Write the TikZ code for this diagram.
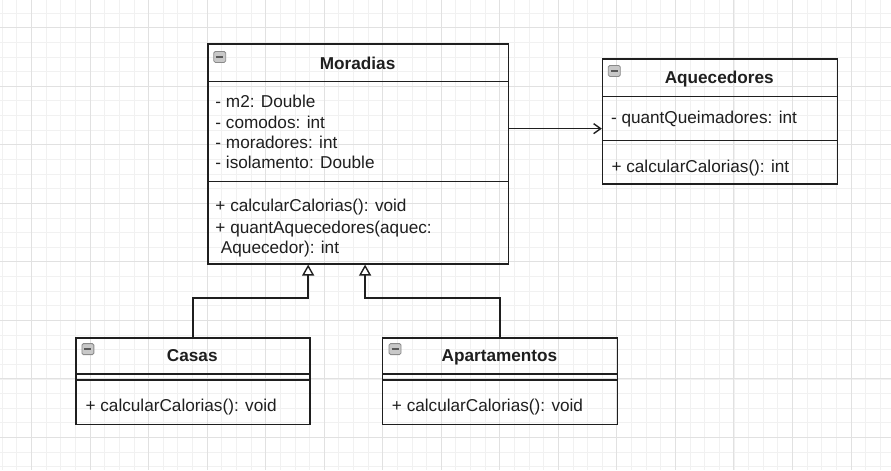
\documentclass[tikz,border=0pt]{standalone}
\usepackage{fontspec}
\setmainfont{Liberation Sans}
\usetikzlibrary{arrows.meta}
\definecolor{ink}{HTML}{1F1F1F}
\definecolor{gridminor}{HTML}{F1F1F1}
\definecolor{gridmajor}{HTML}{E1E1E1}
\definecolor{iconfill}{HTML}{C8C8C8}
\definecolor{iconedge}{HTML}{8A8A8A}
\begin{document}
\begin{tikzpicture}[x=1pt,y=-1pt,
  box/.style={draw=ink, line width=1.4pt, rectangle, inner sep=0pt, anchor=north west},
  sepline/.style={draw=ink, line width=1.4pt},
  txt/.style={anchor=base west, inner sep=0pt, text=ink, font=\fontsize{17.2}{20}\selectfont},
  ttl/.style={anchor=base, inner sep=0pt, text=ink, font=\fontsize{17.2}{20}\selectfont\bfseries},
  icon/.style={draw=iconedge, fill=iconfill, rounded corners=1.5pt, line width=0.8pt,
    minimum width=12pt, minimum height=11pt, inner sep=0pt,
    path picture={\draw[line width=1.6pt, draw=black!65] ([xshift=2.5pt]path picture bounding box.west) -- ([xshift=-2.5pt]path picture bounding box.east);}},
  gen/.style={draw=ink, line width=1.4pt, -{Triangle[open, length=11pt, width=12pt, fill=white]}},
  assoc/.style={draw=ink, line width=1.4pt, -{Straight Barb[length=7pt, width=10pt]}}]
% background and grid
\fill[white] (0,0) rectangle (891,470);
\foreach \i in {0,...,60} { \draw[gridminor, line width=0.9pt] ({1.8+14.65*\i},0) -- ({1.8+14.65*\i},470); }
\foreach \i in {0,...,31} { \draw[gridminor, line width=0.9pt] (0,{12.65+14.65*\i}) -- (891,{12.65+14.65*\i}); }
\foreach \j in {0,...,14} { \draw[gridmajor, line width=1pt] ({31.1+58.6*\j},0) -- ({31.1+58.6*\j},470); }
\foreach \j in {0,...,7} { \draw[gridmajor, line width=1pt] (0,{27.3+58.6*\j}) -- (891,{27.3+58.6*\j}); }
\useasboundingbox (0,0) rectangle (891,470);

% Moradias
\node[box, minimum width=301pt, minimum height=220pt] (mor) at (207,43) {};
\draw[sepline] (mor.west |- 0,81) -- (mor.east |- 0,81);
\draw[sepline] (mor.west |- 0,181) -- (mor.east |- 0,181);
\node[icon] (morIcon) at (219.5,56.5) {};
\node[ttl] (morT) at (357.5,69.3) {Moradias};
\node[txt] (morA1) at (215,107.3) {- m2: Double};
\node[txt] (morA2) at (215,128.3) {- comodos: int};
\node[txt] (morA3) at (215,148.3) {- moradores: int};
\node[txt] (morA4) at (215,168.3) {- isolamento: Double};
\node[txt] (morM1) at (215,211.7) {+ calcularCalorias(): void};
\node[txt] (morM2) at (215,233.3) {+ quantAquecedores(aquec:};
\node[txt] (morM3) at (220.5,253.3) {Aquecedor): int};

% Aquecedores
\node[box, minimum width=235pt, minimum height=125pt] (aq) at (602,58) {};
\draw[sepline] (aq.west |- 0,96) -- (aq.east |- 0,96);
\draw[sepline] (aq.west |- 0,140) -- (aq.east |- 0,140);
\node[icon] (aqIcon) at (614.5,70.5) {};
\node[ttl] (aqT) at (719.5,83.3) {Aquecedores};
\node[txt] (aqA1) at (611,122.7) {- quantQueimadores: int};
\node[txt] (aqM1) at (611.5,171.7) {+ calcularCalorias(): int};

% Casas
\node[box, minimum width=234pt, minimum height=87pt] (cas) at (75,337) {};
\draw[sepline] (cas.west |- 0,374) -- (cas.east |- 0,374);
\draw[sepline] (cas.west |- 0,380) -- (cas.east |- 0,380);
\node[icon] (casIcon) at (87.5,349) {};
\node[ttl] (casT) at (192,361.7) {Casas};
\node[txt] (casM1) at (85,411) {+ calcularCalorias(): void};

% Apartamentos
\node[box, minimum width=235pt, minimum height=87pt] (apt) at (382,337) {};
\draw[sepline] (apt.west |- 0,374) -- (apt.east |- 0,374);
\draw[sepline] (apt.west |- 0,380) -- (apt.east |- 0,380);
\node[icon] (aptIcon) at (395,349) {};
\node[ttl] (aptT) at (499.5,361.7) {Apartamentos};
\node[txt] (aptM1) at (391.7,411) {+ calcularCalorias(): void};

% connectors
\coordinate (arrY) at (0,128.3);
\draw[assoc] (mor.east |- arrY) -- (aq.west |- arrY);
\coordinate (g1) at (308,298);
\coordinate (g2) at (365,298);
\draw[gen] (cas.north) |- (g1) -- (g1 |- mor.south);
\draw[gen] (apt.north) |- (g2) -- (g2 |- mor.south);
\end{tikzpicture}
\end{document}
